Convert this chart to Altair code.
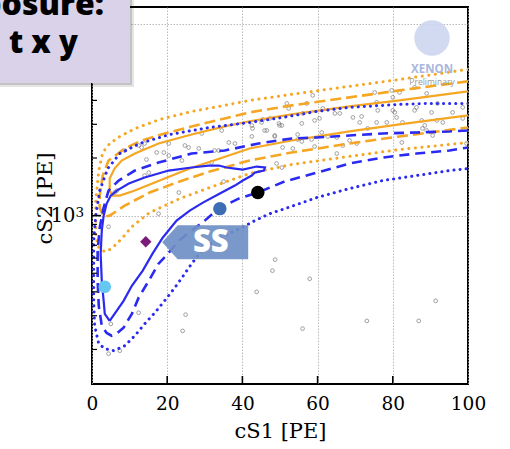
import altair as alt
import pandas as pd

W, H = 376, 377

# ---- ER band (orange) contours, each a single path in drawing order ----
os_s1 = [100, 81.8, 68.5, 53.1, 41.9, 35.3, 26.5, 17.7, 11.4, 7.9, 6.0, 4.7, 4.7, 5.5, 7.4, 11.4, 18.0, 26.0, 34.0, 41.9, 53.1, 68.5, 81.8, 100]
os_s2 = [4458, 4000, 3721, 3378, 3105, 2924, 2655, 2382, 2111, 1941, 1762, 1563, 1352, 1273, 1273, 1352, 1525, 1762, 1987, 2243, 2470, 2753, 2995, 3338]

oa_s1 = [100, 81.8, 68.5, 53.1, 41.9, 35.3, 26.5, 19.3, 13.2, 8.7, 4.4, 2.85, 2.05, 2.05, 3.1, 4.7, 8.7, 15.3, 23.3, 31.3, 41.9, 53.1, 68.5, 81.8, 100]
oa_s2 = [5030, 4512, 4148, 3766, 3462, 3220, 2924, 2687, 2470, 2243, 1941, 1620, 1273, 1101, 988, 1000, 1128, 1320, 1507, 1699, 1941, 2137, 2382, 2592, 2889]

ot_s1 = [100, 82, 68.5, 53, 42, 35.3, 26.5, 18, 11.4, 7.4, 4.7, 2.85, 1.8, 1.0, 1.0, 1.8, 3.4, 5.2, 7.9, 10.6, 15.3, 23.3, 32.1, 41.9, 53.1, 68.5, 81.8, 100]
ot_s2 = [5810, 5150, 4740, 4300, 4000, 3770, 3500, 3180, 2850, 2590, 2380, 2140, 1720, 1200, 786, 680, 648, 672, 758, 875, 1037, 1227, 1420, 1660, 1850, 2040, 2215, 2410]

# ---- signal (blue) contours ----
bs_s1 = [4.7, 3.4, 3.1, 2.6, 2.3, 2.6, 3.1, 3.9, 5.0, 6.6, 9.8, 14.0, 20.4, 26.5, 31.0, 33.7, 35.8, 38.0, 40.1, 43.8, 46.0, 45.7, 43.3, 42.5, 40.1, 38.0, 34.0, 29.5, 26.0, 22.5, 18.8, 16.1, 13.5, 10.6, 8.4, 6.0, 4.7]
bs_s2 = [282, 307, 359, 457, 633, 835, 1000, 1156, 1273, 1352, 1471, 1581, 1720, 1784, 1827, 1827, 1784, 1762, 1741, 1805, 1784, 1720, 1679, 1620, 1525, 1436, 1304, 1170, 1062, 942, 767, 633, 516, 430, 359, 307, 282]

bd_s1 = [100, 95.1, 86.3, 77.3, 68.5, 59.8, 53.1, 44.3, 35.3, 26.5, 17.7, 11.4, 7.1, 4.4, 3.1, 2.05, 1.5, 1.5, 1.8, 2.6, 3.9, 5.2, 6.8, 8.4, 10.6, 12.4, 15.1, 17.7, 20.4, 23.1, 26.5, 30.0, 33.7, 39.0, 44.1, 51.2, 59.8, 68.5, 77.3, 86.3, 95.1, 100]
bd_s2 = [2786, 2753, 2720, 2687, 2623, 2560, 2530, 2382, 2189, 2111, 1895, 1720, 1525, 1352, 1101, 865, 656, 457, 338, 266, 244, 236, 244, 260, 307, 373, 457, 561, 640, 740, 835, 942, 1088, 1227, 1320, 1507, 1679, 1872, 2012, 2111, 2189, 2270]

bt_s1 = [100, 89.8, 81.8, 68.5, 59.8, 50.7, 41.9, 31.3, 20.7, 12.7, 7.4, 4.2, 2.05, 1.0, 0.45, 0.45, 0.45, 0.7, 1.8, 3.4, 5.8, 8.7, 11.4, 14.0, 16.7, 19.3, 22.0, 23.9, 26.5, 29.2, 32.6, 36.4, 39.8, 43.3, 47.3, 51.3, 56.0, 59.8, 68.5, 77.3, 86.3, 95.1, 100]
bt_s2 = [3858, 3858, 3812, 3677, 3504, 3259, 3068, 2889, 2655, 2382, 2111, 1762, 1352, 1000, 740, 516, 359, 266, 214, 202, 197, 209, 236, 272, 311, 359, 420, 473, 561, 656, 740, 805, 865, 942, 1024, 1088, 1170, 1243, 1385, 1525, 1620, 1720, 1762]

# ---- events ----
pts_s1 = [48.7, 48.0, 57.9, 43.8, 56.0, 73.1, 86.9, 91.4, 4.4, 12.4, 5.0, 4.4, 7.4, 24.9, 24.1,
          8.7, 12.4, 13.2, 14.0, 14.5, 17.2, 19.1, 20.4, 20.4, 23.9, 24.7, 25.7, 29.2, 28.4, 31.8, 32.6, 33.7, 34.5, 36.4, 38.0,
          42.5, 42.5, 45.1, 45.9, 48.6, 49.7, 50.5, 52.3, 49.1, 15.1, 14.0, 6.6, 6.0, 17.7, 23.1, 35.0,
          58.7, 51.8, 57.1, 61.4, 64.6, 65.9, 56.0, 59.2, 60.5, 45.4, 47.3, 49.9, 42.7, 46.5, 48.6, 55.8, 61.1, 62.7, 54.7, 58.4,
          54.7, 55.8, 59.2, 65.1, 68.5, 70.4, 66.7, 53.4, 50.7, 65.1, 69.4, 71.7, 71.2, 73.3, 75.7, 75.2, 75.7, 76.0, 78.4, 79.7,
          80.0, 80.0, 80.5, 81.8, 81.0, 82.6, 82.4, 85.8, 86.3, 89.0, 87.7, 87.9, 88.5, 89.0, 90.3, 91.7, 91.9, 93.3, 90.6, 95.9,
          98.6, 99.6, 98.6, 50.5, 85.8]
pts_s2 = [589, 516, 468, 400, 257, 282, 282, 359, 875, 311, 272, 190, 197, 304, 250,
          2189, 2325, 2270, 2382, 1964, 2137, 2137, 2382, 2061, 1941, 2325, 2270, 2687, 2243, 1895, 2189, 2189, 2786, 2411, 2382,
          2959, 2592, 3068, 2786, 2623, 3030, 2959, 3630, 1872, 1679, 1620, 1352, 1320, 1024, 1320, 1507,
          4249, 3858, 3858, 3633, 3420, 3420, 3420, 3143, 3220, 3181, 3220, 2959, 2854, 2786, 2592, 3032, 2720, 2592, 2655, 2500,
          2500, 2441, 2297, 2560, 2470, 2382, 2325, 2243, 2270, 2111, 3259, 3298, 3068, 2854, 3068, 4400, 3907, 3546, 3068, 4512,
          4148, 3546, 3462, 4404, 3259, 3068, 2411, 3546, 3677, 4350, 3143, 2854, 2959, 2786, 3462, 3143, 3858, 3068, 2623, 3462,
          3220, 2382, 3677, 1784, 4679]

# highlighted markers
mk_s1 = [3.4, 14.3, 34.0, 44.1]
mk_s2 = [425, 731, 1088, 1320]
mk_col = ["#66c8f0", "#7b1a78", "#3e6db3", "#000000"]
mk_shape = ["circle", "diamond", "circle", "circle"]
mk_size = [160, 130, 180, 180]

x_ticks = [20, 40, 60, 80]
y_minor = [200, 300, 400, 500, 600, 700, 800, 900, 2000, 3000, 4000, 5000, 6000, 7000, 8000, 9000]
y_major = [1000, 10000]

def path(s1, s2):
    return pd.DataFrame({"cS1": s1, "cS2": s2, "i": list(range(len(s1)))})

xs = alt.Scale(domain=[0, 100], nice=False, zero=False)
ys = alt.Scale(type="log", domain=[132, 12300], nice=False)
xaxis = alt.Axis(values=[0, 20, 40, 60, 80, 100], grid=True, gridDash=[1.5, 1.5], gridColor="#aaaaaa",
                 gridWidth=0.8, ticks=False, domain=False, labelFontSize=18.5, labelPadding=10,
                 labelFlush=False, labelColor="black", title="cS1 [PE]", titleFontSize=21,
                 titleFontWeight="normal", titleColor="black", titlePadding=8,
                 labelFont="DejaVu Serif", titleFont="DejaVu Serif")
yaxis = alt.Axis(values=y_major, grid=True, gridDash=[1.5, 1.5], gridColor="#aaaaaa", gridWidth=0.8,
                 ticks=False, domain=False, labelFontSize=19.5, labelPadding=17, labelColor="black",
                 labelFlush=False, labelExpr="datum.value == 1000 ? '10' : ''", labelBaseline="middle",
                 title="cS2 [PE]", titleFontSize=21, titleFontWeight="normal", titleColor="black",
                 titleX=-47, titleY=191, titleAngle=-90, titleBaseline="middle", titleAlign="center",
                 labelFont="DejaVu Serif", titleFont="DejaVu Serif")
X = alt.X("cS1:Q", scale=xs, axis=xaxis)
Y = alt.Y("cS2:Q", scale=ys, axis=yaxis)

ORANGE = "#f5a623"
BLUE = "#2a2af0"

points = alt.Chart(pd.DataFrame({"cS1": pts_s1, "cS2": pts_s2})).mark_point(
    shape="circle", size=14, color="#6a6a6a", strokeWidth=0.9, filled=False
).encode(x=X, y=Y)

def contour(s1, s2, color, width, dash=None, cap="butt"):
    kw = dict(color=color, strokeWidth=width, strokeCap=cap, clip=True)
    if dash is not None:
        kw["strokeDash"] = dash
    return alt.Chart(path(s1, s2)).mark_line(**kw).encode(x=X, y=Y, order="i:Q")

o_solid = contour(os_s1, os_s2, ORANGE, 2.2)
o_dash = contour(oa_s1, oa_s2, ORANGE, 2.6, [11, 5])
o_dot = contour(ot_s1, ot_s2, ORANGE, 3, [0.1, 6.5], "round")
b_solid = contour(bs_s1, bs_s2, BLUE, 2.2)
b_dash = contour(bd_s1, bd_s2, BLUE, 2.6, [10, 6])
b_dot = contour(bt_s1, bt_s2, BLUE, 3, [0.1, 6], "round")

markers = alt.Chart(pd.DataFrame({"cS1": mk_s1, "cS2": mk_s2, "c": mk_col, "s": mk_shape, "z": mk_size})).mark_point(
    filled=True, opacity=1, strokeWidth=0
).encode(x=X, y=Y, color=alt.Color("c:N", scale=None), shape=alt.Shape("s:N", scale=None),
         size=alt.Size("z:Q", scale=None))

# SS label arrow
ss_df = pd.DataFrame({"cS1": [30.1], "cS2": [727], "t": ["SS"]})
arrow = alt.Chart(ss_df).mark_point(
    shape="M -1 0 L -0.64 -0.395 L 1 -0.395 L 1 0.395 L -0.64 0.395 Z",
    size=7396, filled=True, color="#6f8fc4", opacity=0.92, strokeWidth=0
).encode(x=X, y=Y)
ss_text = alt.Chart(pd.DataFrame({"cS1": [31.6], "cS2": [727], "t": ["SS"]})).mark_text(
    font="Open Sans", fontWeight=800, fontSize=31, color="white", baseline="middle", align="center", dy=1
).encode(x=X, y=Y, text="t:N")

# superscript of the 10^3 tick label
sup = alt.Chart(pd.DataFrame({"cS2": [1000], "t": ["3"]})).mark_text(
    font="DejaVu Serif", fontSize=13.5, color="black", align="left", baseline="alphabetic", dy=1.5
).encode(y=Y, x=alt.value(-16.5), text="t:N")

# inward ticks
xtick = alt.Chart(pd.DataFrame({"cS1": x_ticks})).mark_rule(color="black", strokeWidth=1.6).encode(
    x=X, y=alt.value(H), y2=alt.value(H - 8))
ytick_minor = alt.Chart(pd.DataFrame({"cS2": y_minor})).mark_rule(color="black", strokeWidth=1.2).encode(
    y=Y, x=alt.value(0), x2=alt.value(5))
ytick_major = alt.Chart(pd.DataFrame({"cS2": y_major})).mark_rule(color="black", strokeWidth=1.6).encode(
    y=Y, x=alt.value(0), x2=alt.value(9))

one = pd.DataFrame({"a": [0]})
# exposure box (top-left), partially outside the figure
shadow2 = alt.Chart(one).mark_rect(color="#000000", opacity=0.10).encode(
    x=alt.value(-92), x2=alt.value(42), y=alt.value(-7), y2=alt.value(80))
shadow1 = alt.Chart(one).mark_rect(color="#000000", opacity=0.15).encode(
    x=alt.value(-92), x2=alt.value(40), y=alt.value(-7), y2=alt.value(78))
box = alt.Chart(one).mark_rect(color="#d9d2e9").encode(
    x=alt.value(-92), x2=alt.value(38), y=alt.value(-7), y2=alt.value(76))
box_t1 = alt.Chart(one).mark_text(text="Exposure:", font="Open Sans", fontWeight=800, fontSize=32,
                                  align="right", baseline="alphabetic", color="black").encode(
    x=alt.value(12), y=alt.value(8))
box_t2 = alt.Chart(one).mark_text(text="t x y", font="Open Sans", fontWeight=800, fontSize=31,
                                  align="left", baseline="alphabetic", color="black").encode(
    x=alt.value(-83), y=alt.value(46))

# XENON logo
logo = alt.Chart(one).mark_point(shape="circle", size=1257, filled=True, color="#cdd6f0", opacity=0.9,
                                 strokeWidth=0).encode(x=alt.value(340), y=alt.value(31))
logo_t1 = alt.Chart(one).mark_text(text="XENON", font="Open Sans", fontWeight="bold", fontSize=11.5,
                                   color="#a9b7de", align="center", baseline="middle").encode(
    x=alt.value(340), y=alt.value(63))
logo_t2 = alt.Chart(one).mark_text(text="Preliminary", font="Open Sans", fontSize=8.5, color="#9a9a9a",
                                   align="center", baseline="middle").encode(
    x=alt.value(340), y=alt.value(75))

chart = alt.layer(
    points, o_dot, o_dash, o_solid, b_dot, b_dash, b_solid, arrow, ss_text, markers,
    xtick, ytick_minor, ytick_major, sup, logo, logo_t1, logo_t2,
    shadow2, shadow1, box, box_t1, box_t2
).properties(
    width=W, height=H,
    autosize=alt.AutoSizeParams(type="none"),
    padding={"left": 92, "top": 7, "right": 42, "bottom": 65},
    background="white"
).configure_view(stroke="black", strokeWidth=2)

chart.save("out.html", embed_options={"renderer": "svg", "actions": False})
